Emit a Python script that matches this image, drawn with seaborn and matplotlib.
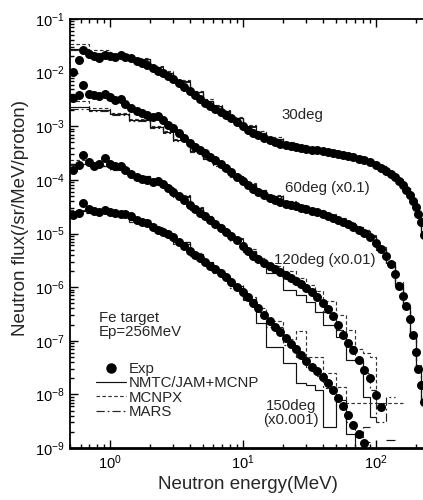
import numpy as np
import matplotlib
matplotlib.use("Agg")
import matplotlib.pyplot as plt
import matplotlib.ticker as mticker
from matplotlib.lines import Line2D
import pandas as pd
import seaborn as sns

sns.set_theme(style="ticks")
plt.rcParams["font.family"] = ["Liberation Sans", "DejaVu Sans"]
plt.rcParams["mathtext.fontset"] = "custom"
plt.rcParams["mathtext.rm"] = "Liberation Sans"

# ---- measured spectra (Exp), already scaled as in the figure ----
e_30 = [0.53, 0.58, 0.63, 0.69, 0.76, 0.83, 0.91, 1.0, 1.1, 1.2, 1.3, 1.45, 1.6, 1.75, 1.9,
        2.1, 2.3, 2.5, 2.75, 3.0, 3.3, 3.6, 4.0, 4.4, 4.8, 5.2, 5.7, 6.2, 6.8, 7.5, 8.2, 9.0,
        10, 11, 12, 13, 14.5, 16, 17.5, 19, 21, 23, 25, 27.5, 30, 33, 36, 40, 44, 48,
        52, 57, 62, 68, 75, 82, 90, 100, 110, 120, 130, 140, 150, 160, 170, 180, 190,
        200, 210, 220, 230]
exp_30 = [1.03e-2, 1.72e-2, 2.64e-2, 2.22e-2, 2.04e-2, 1.87e-2, 2.13e-2, 2.04e-2, 1.95e-2, 2.13e-2,
          1.95e-2, 1.87e-2, 1.64e-2, 1.51e-2, 1.39e-2, 1.22e-2, 1.07e-2, 9.8e-3, 8.6e-3, 7.6e-3,
          6.4e-3, 5.4e-3, 4.5e-3, 3.8e-3, 3.2e-3, 2.7e-3, 2.4e-3, 2.1e-3, 1.84e-3, 1.62e-3,
          1.42e-3, 1.2e-3, 1.0e-3, 8.5e-4, 7.5e-4, 6.9e-4, 6.0e-4, 5.5e-4, 5.1e-4, 4.7e-4,
          4.5e-4, 4.3e-4, 4.1e-4, 3.9e-4, 3.76e-4, 3.6e-4, 3.55e-4, 3.44e-4, 3.3e-4, 3.16e-4,
          3.03e-4, 2.9e-4, 2.78e-4, 2.66e-4, 2.5e-4, 2.34e-4, 2.15e-4, 1.89e-4, 1.66e-4, 1.46e-4,
          1.28e-4, 1.13e-4, 9.5e-5, 8.0e-5, 6.5e-5, 5.2e-5, 4.0e-5, 3.1e-5, 2.3e-5, 1.63e-5, 9.3e-6]

e_60 = e_30
exp_60 = [3.4e-3, 3.8e-3, 5.9e-3, 4.0e-3, 3.8e-3, 3.66e-3, 4.0e-3, 3.5e-3, 3.1e-3, 3.2e-3,
          2.6e-3, 2.2e-3, 1.92e-3, 1.76e-3, 1.62e-3, 1.49e-3, 1.55e-3, 1.3e-3, 1.05e-3, 9.2e-4,
          7.5e-4, 6.0e-4, 4.9e-4, 4.1e-4, 3.6e-4, 3.16e-4, 2.66e-4, 2.34e-4, 1.97e-4, 1.66e-4,
          1.4e-4, 1.13e-4, 9.5e-5, 8.0e-5, 6.7e-5, 5.9e-5, 5.2e-5, 4.6e-5, 4.2e-5, 3.85e-5,
          3.5e-5, 3.4e-5, 3.25e-5, 3.05e-5, 2.85e-5, 2.6e-5, 2.5e-5, 2.3e-5, 2.1e-5, 1.94e-5,
          1.78e-5, 1.63e-5, 1.5e-5, 1.32e-5, 1.16e-5, 1.02e-5, 8.6e-6, 6.6e-6, 5.1e-6, 3.8e-6,
          2.7e-6, 1.75e-6, 1.04e-6, 6.8e-7, 4.4e-7, 2.5e-7, 1.27e-7, 6.1e-8, 2.95e-8, 1.49e-8, 7.1e-9]

e_120 = e_30[:59]
exp_120 = [1.52e-4, 1.89e-4, 2.9e-4, 2.15e-4, 1.81e-4, 1.97e-4, 2.55e-4, 1.97e-4, 1.81e-4, 1.81e-4,
           1.52e-4, 1.28e-4, 1.13e-4, 1.03e-4, 9.9e-5, 9.1e-5, 9.5e-5, 8.4e-5, 7.0e-5, 5.9e-5,
           5.0e-5, 4.2e-5, 3.4e-5, 2.85e-5, 2.4e-5, 2.1e-5, 1.78e-5, 1.5e-5, 1.26e-5, 1.06e-5,
           8.9e-6, 7.5e-6, 5.8e-6, 4.7e-6, 3.8e-6, 3.3e-6, 2.8e-6, 2.47e-6, 2.17e-6, 1.9e-6,
           1.67e-6, 1.47e-6, 1.29e-6, 1.14e-6, 9.6e-7, 8.1e-7, 6.5e-7, 5.0e-7, 3.9e-7, 2.9e-7,
           1.95e-7, 1.27e-7, 9.0e-8, 6.7e-8, 4.3e-8, 2.8e-8, 2.0e-8, 9.7e-9, 5.8e-9]

e_150 = e_30[:56]
exp_150 = [2.2e-5, 2.4e-5, 3.7e-5, 2.85e-5, 2.6e-5, 2.5e-5, 2.7e-5, 2.5e-5, 2.4e-5, 2.3e-5,
           2.3e-5, 2.1e-5, 1.78e-5, 1.63e-5, 1.56e-5, 1.32e-5, 1.16e-5, 1.06e-5, 9.7e-6, 8.6e-6,
           6.9e-6, 5.8e-6, 4.7e-6, 4.0e-6, 3.5e-6, 2.9e-6, 2.5e-6, 2.17e-6, 1.82e-6, 1.54e-6,
           1.24e-6, 1.0e-6, 8.1e-7, 6.5e-7, 5.0e-7, 4.1e-7, 3.0e-7, 2.3e-7, 1.8e-7, 1.45e-7,
           1.12e-7, 8.6e-8, 7.0e-8, 5.4e-8, 4.2e-8, 3.2e-8, 2.7e-8, 2.1e-8, 1.62e-8, 1.2e-8,
           8.5e-9, 6.0e-9, 4.1e-9, 2.7e-9, 1.8e-9, 1.23e-9]

# ---- calculations (histograms over common energy bins) ----
bin_edges = [0.5, 0.7, 1.0, 1.4, 2.0, 2.5, 3, 4, 5, 6, 7, 8, 10, 12.5, 15, 20, 25, 30, 35, 40,
             50, 60, 70, 80, 90, 100, 120, 140, 160, 180, 200, 220, 240, 260]
nan = np.nan

nmtc_30 = [2.8e-2, 2.3e-2, 2.1e-2, 1.8e-2, 1.3e-2, 1.0e-2, 7.0e-3, 4.4e-3, 3.0e-3, 2.4e-3, 1.95e-3,
           1.45e-3, 1.0e-3, 7.6e-4, 5.9e-4, 4.9e-4, 4.4e-4, 4.0e-4, 3.8e-4, 3.55e-4, 3.2e-4,
           2.95e-4, 2.7e-4, 2.45e-4, 2.15e-4, 1.8e-4, 1.35e-4, 1.0e-4, 7.0e-5, 4.2e-5, 2.4e-5,
           1.0e-5, 3e-6]
mcnpx_30 = [3.4e-2, 2.6e-2, 2.2e-2, 1.9e-2, 1.35e-2, 1.05e-2, 7.3e-3, 4.6e-3, 3.2e-3, 2.5e-3, 2.0e-3,
            1.5e-3, 1.05e-3, 8.0e-4, 6.2e-4, 5.1e-4, 4.5e-4, 4.1e-4, 3.8e-4, 3.6e-4, 3.3e-4,
            3.0e-4, 2.75e-4, 2.5e-4, 2.2e-4, 1.85e-4, 1.4e-4, 1.05e-4, 7.2e-5, 4.4e-5, 2.5e-5,
            1.1e-5, 3.5e-6]
mars_30 = [2.6e-2, 2.2e-2, 2.0e-2, 1.75e-2, 1.25e-2, 9.8e-3, 6.8e-3, 4.3e-3, 2.9e-3, 2.3e-3, 1.85e-3,
           1.4e-3, 9.6e-4, 7.2e-4, 5.6e-4, 4.7e-4, 4.25e-4, 3.9e-4, 3.7e-4, 3.45e-4, 3.15e-4,
           2.9e-4, 2.65e-4, 2.4e-4, 2.1e-4, 1.75e-4, 1.3e-4, 9.8e-5, 6.8e-5, 4.0e-5, 2.3e-5,
           9.5e-6, 2.8e-6]

nmtc_60 = [2.3e-3, 2.0e-3, 1.7e-3, 1.3e-3, 9.7e-4, 7.8e-4, 5.6e-4, 3.5e-4, 2.5e-4, 1.95e-4, 1.6e-4,
           1.2e-4, 8.4e-5, 6.4e-5, 5.0e-5, 3.9e-5, 3.3e-5, 2.9e-5, 2.6e-5, 2.25e-5, 1.9e-5,
           1.6e-5, 1.3e-5, 1.1e-5, 9.0e-6, 5.2e-6, 2.8e-6, 1.15e-6, 4.3e-7, 1.3e-7, 3.2e-8,
           8e-9, 2e-9]
mcnpx_60 = [2.9e-3, 2.2e-3, 1.8e-3, 1.35e-3, 1.0e-3, 8.0e-4, 5.8e-4, 3.6e-4, 2.6e-4, 2.0e-4, 1.65e-4,
            1.25e-4, 8.7e-5, 6.6e-5, 5.2e-5, 4.0e-5, 3.4e-5, 3.0e-5, 2.7e-5, 2.3e-5, 1.95e-5,
            1.65e-5, 1.35e-5, 1.15e-5, 9.5e-6, 5.5e-6, 3.0e-6, 1.25e-6, 4.6e-7, 1.4e-7, 3.5e-8,
            9e-9, 2.5e-9]
mars_60 = [2.1e-3, 1.9e-3, 1.6e-3, 1.25e-3, 9.3e-4, 7.4e-4, 5.3e-4, 3.3e-4, 2.4e-4, 1.85e-4, 1.5e-4,
           1.15e-4, 8.1e-5, 6.2e-5, 4.8e-5, 3.8e-5, 3.2e-5, 2.8e-5, 2.5e-5, 2.2e-5, 1.85e-5,
           1.55e-5, 1.25e-5, 1.05e-5, 8.6e-6, 5.0e-6, 2.6e-6, 1.05e-6, 4.0e-7, 1.2e-7, 3e-8,
           7e-9, 2e-9]

nmtc_120 = [2.0e-4, 1.85e-4, 1.6e-4, 1.2e-4, 9.2e-5, 7.3e-5, 5.0e-5, 3.0e-5, 2.0e-5, 1.45e-5, 1.12e-5,
            8.0e-6, 4.8e-6, 3.2e-6, 1.8e-6, 8.8e-7, 7.0e-7, 5.2e-7, 3.4e-7, 1.95e-7, 1.2e-7,
            4.3e-8, 4.3e-8, 9e-9, 3.8e-9, nan, 1.4e-9, nan, nan, nan, nan, nan, nan]
mcnpx_120 = [2.3e-4, 1.9e-4, 1.65e-4, 1.2e-4, 9.4e-5, 7.5e-5, 5.2e-5, 3.1e-5, 2.1e-5, 1.5e-5, 1.15e-5,
             8.3e-6, 5.1e-6, 3.5e-6, 2.5e-6, 2.0e-6, 1.5e-6, 1.1e-6, 8.5e-7, 5.5e-7, 3.0e-7,
             1.6e-7, 7e-8, 6e-8, 5e-8, 7e-9, 7e-9, 7e-9, nan, nan, nan, nan, nan]
mars_120 = [1.9e-4, 1.8e-4, 1.55e-4, 1.15e-4, 8.8e-5, 7.0e-5, 4.7e-5, 2.8e-5, 1.85e-5, 1.35e-5, 1.05e-5,
            7.4e-6, 4.5e-6, 3.1e-6, 2.1e-6, 1.45e-6, 1.1e-6, 8e-7, 5.8e-7, 3.4e-7, 1.6e-7,
            8e-8, 4.2e-8, 2.5e-8, 1.2e-8, 3e-9, 9e-9, nan, nan, nan, nan, nan, nan]

nmtc_150 = [2.6e-5, 2.5e-5, 2.3e-5, 1.75e-5, 1.25e-5, 9.8e-6, 6.8e-6, 4.2e-6, 2.9e-6, 2.1e-6, 1.55e-6,
            1.05e-6, 6.0e-7, 2.1e-7, 7.6e-8, 3.8e-8, 1.6e-8, 1.5e-8, 1.2e-8, 2.5e-9, 8e-9,
            1.8e-9, 1e-12, 1.3e-9, nan, nan, nan, nan, nan, nan, nan, nan, nan]
mcnpx_150 = [2.8e-5, 2.6e-5, 2.35e-5, 1.8e-5, 1.3e-5, 1.0e-5, 7.0e-6, 4.3e-6, 3.0e-6, 2.15e-6, 1.6e-6,
             1.1e-6, 6.6e-7, 4.0e-7, 2.3e-7, 1.1e-7, 1.5e-7, 5e-8, 5e-8, 2.5e-8, 1.4e-8,
             7e-9, 7e-9, 7e-9, 7e-9, nan, nan, nan, nan, nan, nan, nan, nan]
mars_150 = [2.4e-5, 2.4e-5, 2.2e-5, 1.65e-5, 1.2e-5, 9.2e-6, 6.3e-6, 3.8e-6, 2.6e-6, 1.85e-6, 1.4e-6,
            9.5e-7, 5.8e-7, 3.5e-7, 1.8e-7, 8.5e-8, 5e-8, 3.2e-8, 2.2e-8, 1.3e-8, 6e-9,
            3e-9, 1.6e-9, 2.5e-9, nan, nan, nan, nan, nan, nan, nan, nan, nan]

x_ticks = [1, 10, 100]
y_ticks = [1e-9, 1e-8, 1e-7, 1e-6, 1e-5, 1e-4, 1e-3, 1e-2, 1e-1]

exp_df = pd.concat([
    pd.DataFrame({"E": e_30, "flux": exp_30, "angle": "30"}),
    pd.DataFrame({"E": e_60, "flux": exp_60, "angle": "60"}),
    pd.DataFrame({"E": e_120, "flux": exp_120, "angle": "120"}),
    pd.DataFrame({"E": e_150, "flux": exp_150, "angle": "150"}),
])

fig = plt.figure(figsize=(4.23, 5.0), dpi=100)
# right end of the axis is cut off by the figure edge, as in the original
ax = fig.add_axes([70 / 423, 52 / 500, 369 / 423, 429 / 500])

styles = {
    "nmtc": dict(color="#111111", linestyle="-", linewidth=0.85),
    "mcnpx": dict(color="#333333", linestyle=(0, (3, 2)), linewidth=0.85),
    "mars": dict(color="#222222", linestyle=(0, (7, 2.5, 1.5, 2.5)), linewidth=0.85),
}
for vals, key in [(mars_30, "mars"), (mcnpx_30, "mcnpx"), (nmtc_30, "nmtc"),
                  (mars_60, "mars"), (mcnpx_60, "mcnpx"), (nmtc_60, "nmtc"),
                  (mars_120, "mars"), (mcnpx_120, "mcnpx"), (nmtc_120, "nmtc"),
                  (mars_150, "mars"), (mcnpx_150, "mcnpx"), (nmtc_150, "nmtc")]:
    ax.stairs(np.array(vals, dtype=float), bin_edges, baseline=None, **styles[key])

sns.scatterplot(data=exp_df, x="E", y="flux", color="black", s=42, linewidth=0,
                legend=False, ax=ax, zorder=3)

ax.set_xscale("log")
ax.set_yscale("log")
ax.set_xlim(0.5, 300)
ax.set_ylim(1e-9, 1e-1)

fmt = mticker.FuncFormatter(lambda v, p: "$\\mathregular{10^{%d}}$" % round(np.log10(v)))
ax.xaxis.set_major_locator(mticker.FixedLocator(x_ticks))
ax.yaxis.set_major_locator(mticker.FixedLocator(y_ticks))
ax.xaxis.set_minor_locator(mticker.LogLocator(base=10, subs=np.arange(2, 10), numticks=10))
ax.yaxis.set_minor_locator(mticker.LogLocator(base=10, subs=np.arange(2, 10), numticks=12))
ax.xaxis.set_major_formatter(fmt)
ax.yaxis.set_major_formatter(fmt)
ax.xaxis.set_minor_formatter(mticker.NullFormatter())
ax.yaxis.set_minor_formatter(mticker.NullFormatter())
ax.tick_params(which="both", direction="in", top=True, right=True, colors="black",
               labelsize=10.5, width=1)
ax.tick_params(which="major", length=6, pad=4)
ax.tick_params(which="minor", length=3)
for side in ["left", "top", "right"]:
    ax.spines[side].set_linewidth(1.3)
    ax.spines[side].set_color("black")
ax.spines["bottom"].set_linewidth(2)
ax.spines["bottom"].set_color("black")

ax.set_xlabel("Neutron energy(MeV)", fontsize=13.5)
ax.xaxis.set_label_coords((248 - 70) / 369, -0.065)
ax.set_ylabel("")
fig.text(21 / 423, 1 - 218 / 500, "Neutron flux(/sr/MeV/proton)", rotation=90,
         ha="center", va="center", fontsize=13.5)

tsize = 10.8
fig.text(302 / 423, 1 - 115 / 500, "30deg", ha="center", va="center", fontsize=tsize)
fig.text(327 / 423, 1 - 188 / 500, "60deg (x0.1)", ha="center", va="center", fontsize=tsize)
fig.text(325 / 423, 1 - 260 / 500, "120deg (x0.01)", ha="center", va="center", fontsize=tsize)
fig.text(291 / 423, 1 - 413 / 500, "150deg\n(x0.001)", ha="center", va="center",
         fontsize=tsize, linespacing=0.95)
fig.text(99 / 423, 1 - 325 / 500, "Fe target\nEp=256MeV", ha="left", va="center",
         fontsize=tsize, linespacing=0.95)

handles = [
    Line2D([], [], marker="o", linestyle="none", color="black", markersize=6.5),
    Line2D([], [], **styles["nmtc"]),
    Line2D([], [], **styles["mcnpx"]),
    Line2D([], [], **styles["mars"]),
]
fig.legend(handles, ["Exp", "NMTC/JAM+MCNP", "MCNPX", "MARS"], loc="upper left",
           bbox_to_anchor=(96 / 423, 1 - 362 / 500), frameon=False, fontsize=tsize,
           handlelength=2.0, handletextpad=0.2, labelspacing=0.02, borderpad=0,
           borderaxespad=0)

fig.savefig("out.png", dpi=100)
